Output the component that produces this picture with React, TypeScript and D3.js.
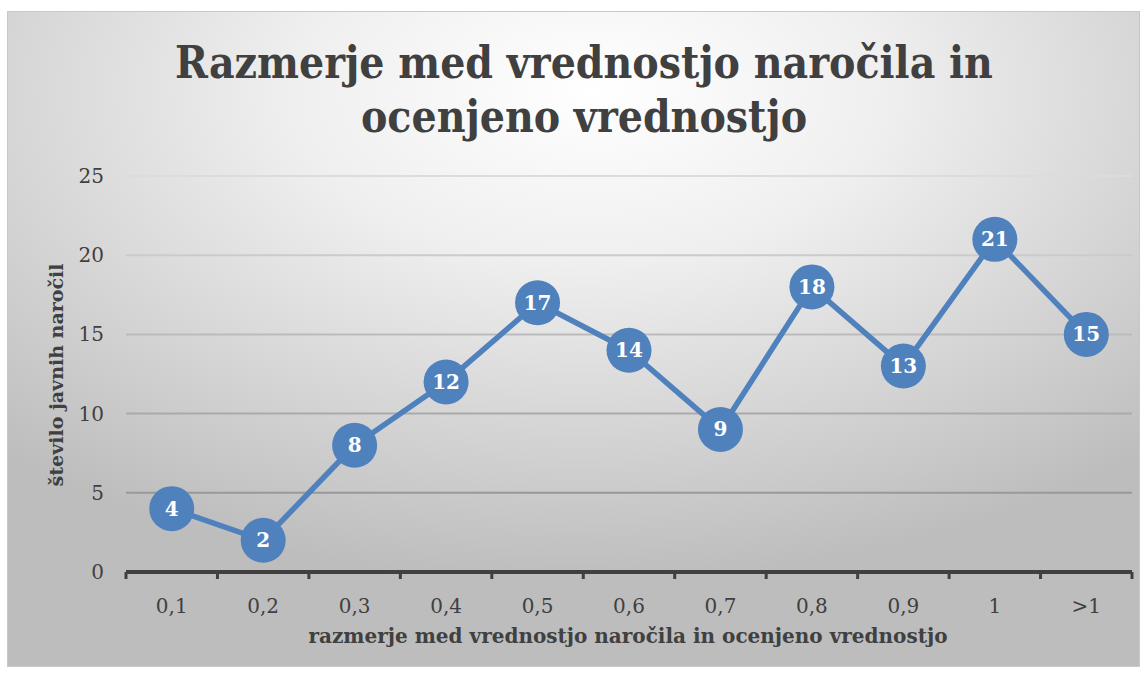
import React from "react";
import * as d3 from "d3";

const categories = ["0,1", "0,2", "0,3", "0,4", "0,5", "0,6", "0,7", "0,8", "0,9", "1", ">1"];
const values = [4, 2, 8, 12, 17, 14, 9, 18, 13, 21, 15];
const yTicks = [0, 5, 10, 15, 20, 25];
const titleLines = ["Razmerje med vrednostjo naročila in", "ocenjeno vrednostjo"];
const xTitle = "razmerje med vrednostjo naročila in ocenjeno vrednostjo";
const yTitle = "število javnih naročil";

const W = 1147;
const H = 676;
const FONT = "'DejaVu Serif', 'Liberation Serif', serif";
const TITLE_FONT = "'DejaVu Serif Condensed', 'DejaVu Serif', serif";

export default function App() {
  const left = 126, right = 1132, top = 176, bottom = 572;
  const x = d3.scaleBand<string>().domain(categories).range([left, right]).padding(0);
  const y = d3.scaleLinear().domain([0, 25]).range([bottom, top]);
  const gridColor = d3.scaleLinear<string>().domain([5, 25]).range(["#999999", "#dcdcdc"]);
  const cx = (c: string) => (x(c) as number) + x.bandwidth() / 2;
  const line = d3.line<number>().x((_, i) => cx(categories[i])).y((v) => y(v));
  const boundaries = [...categories.map((c) => x(c) as number), right];

  return (
    <svg width={W} height={H} style={{ position: "absolute", left: 0, top: 0 }} fontFamily={FONT}>
      <defs>
        <radialGradient id="bg" cx="50%" cy="12%" r="75%" fx="52%" fy="12%" gradientUnits="objectBoundingBox">
          <stop offset="0" stopColor="#ffffff" />
          <stop offset="0.35" stopColor="#efefef" />
          <stop offset="1" stopColor="#bdbdbd" />
        </radialGradient>
      </defs>
      <rect x={7.5} y={11.5} width={1132} height={655} fill="url(#bg)" stroke="#c8c8c8" strokeWidth={1} />
      {titleLines.map((t, i) => (
        <text key={i} x={584} y={78 + i * 54} textAnchor="middle" fontSize={44} fontWeight="bold" fill="#404040" fontFamily={TITLE_FONT}>
          {t}
        </text>
      ))}
      {yTicks.map((t) => (
        <g key={t}>
          {t > 0 && (
            <line x1={left} x2={right} y1={y(t)} y2={y(t)} stroke={gridColor(t)} strokeWidth={2} />
          )}
          <text x={104} y={y(t) + 7} textAnchor="end" fontSize={20} fill="#404040">
            {t}
          </text>
        </g>
      ))}
      <line x1={left} x2={right} y1={y(0)} y2={y(0)} stroke="#404040" strokeWidth={4} />
      {boundaries.map((b, i) => (
        <line key={i} x1={b} x2={b} y1={y(0)} y2={y(0) + 7} stroke="#404040" strokeWidth={3} />
      ))}
      {categories.map((c) => (
        <text key={c} x={cx(c)} y={613} textAnchor="middle" fontSize={20} fill="#404040">
          {c}
        </text>
      ))}
      <text x={628} y={643} textAnchor="middle" fontSize={20} fontWeight="bold" fill="#404040">
        {xTitle}
      </text>
      <text transform={`translate(63,375) rotate(-90)`} textAnchor="middle" fontSize={19} fontWeight="bold" fill="#404040">
        {yTitle}
      </text>
      <path d={line(values) || ""} fill="none" stroke="#4f81bd" strokeWidth={5.5} strokeLinejoin="round" />
      {values.map((v, i) => (
        <g key={i}>
          <circle cx={cx(categories[i])} cy={y(v)} r={22.5} fill="#4f81bd" />
          <text x={cx(categories[i])} y={y(v) + 7} textAnchor="middle" fontSize={20} fontWeight="bold" fill="#fff">
            {v}
          </text>
        </g>
      ))}
    </svg>
  );
}
